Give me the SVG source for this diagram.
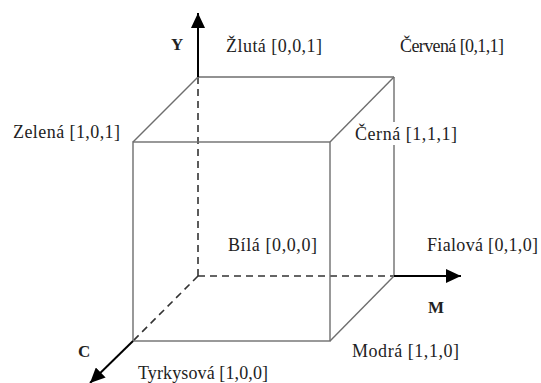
<svg xmlns="http://www.w3.org/2000/svg" width="541" height="383" viewBox="0 0 541 383">
<style>
.edge{stroke:#6e6e6e;stroke-width:1.4;fill:none}
.dash{stroke:#333;stroke-width:1.6;fill:none;stroke-dasharray:7,5}
.axis{stroke:#000;stroke-width:2;fill:none}
.lbl{font-family:"Liberation Serif","Times New Roman",serif;font-size:18px;fill:#222}
.ax{font-family:"Liberation Serif","Times New Roman",serif;font-size:17px;font-weight:bold;fill:#222}
</style>
<defs>
<marker id="arr" markerUnits="userSpaceOnUse" markerWidth="16" markerHeight="14" refX="15" refY="7" orient="auto">
<path d="M0,0 L15,7 L0,14 Z" fill="#000"/>
</marker>
</defs>
<rect width="541" height="383" fill="#fff"/>
<g id="connectors">
<line class="dash" x1="198" y1="77" x2="198" y2="276"/>
<line class="dash" x1="198" y1="276" x2="394" y2="276"/>
<line class="dash" x1="198" y1="276" x2="133" y2="341"/>
<line class="edge" x1="198" y1="77" x2="394" y2="77"/>
<line class="edge" x1="394" y1="77" x2="394" y2="276"/>
<line class="edge" x1="198" y1="77" x2="133" y2="142"/>
<line class="edge" x1="394" y1="77" x2="330" y2="142"/>
<line class="edge" x1="394" y1="276" x2="330" y2="341"/>
<rect class="edge" x="133" y="142" width="197" height="199"/>
<line class="axis" x1="198" y1="77" x2="198" y2="13" marker-end="url(#arr)"/>
<line class="axis" x1="394" y1="276" x2="461" y2="276" marker-end="url(#arr)"/>
<line class="axis" x1="133" y1="341" x2="90" y2="383" marker-end="url(#arr)"/>
</g>
<g id="axis-Y"><text class="ax" x="171" y="50">Y</text></g>
<g id="axis-M"><text class="ax" x="428" y="313">M</text></g>
<g id="axis-C"><text class="ax" x="78" y="357">C</text></g>
<g id="zluta"><text class="lbl" x="226" y="52" textLength="96">Žlutá [0,0,1]</text></g>
<g id="cervena"><text class="lbl" x="400" y="52" textLength="104">Červená [0,1,1]</text></g>
<g id="zelena"><text class="lbl" x="13" y="138" textLength="107">Zelená [1,0,1]</text></g>
<g id="cerna"><rect x="352" y="122" width="108" height="23" fill="#fff"/><text class="lbl" x="355" y="140" textLength="102">Černá [1,1,1]</text></g>
<g id="bila"><text class="lbl" x="228" y="251" textLength="89">Bílá [0,0,0]</text></g>
<g id="fialova"><text class="lbl" x="427" y="251" textLength="111">Fialová [0,1,0]</text></g>
<g id="modra"><text class="lbl" x="352" y="357" textLength="107">Modrá [1,1,0]</text></g>
<g id="tyrkysova"><text class="lbl" x="138" y="379" font-size="17" textLength="130">Tyrkysová [1,0,0]</text></g>
</svg>
